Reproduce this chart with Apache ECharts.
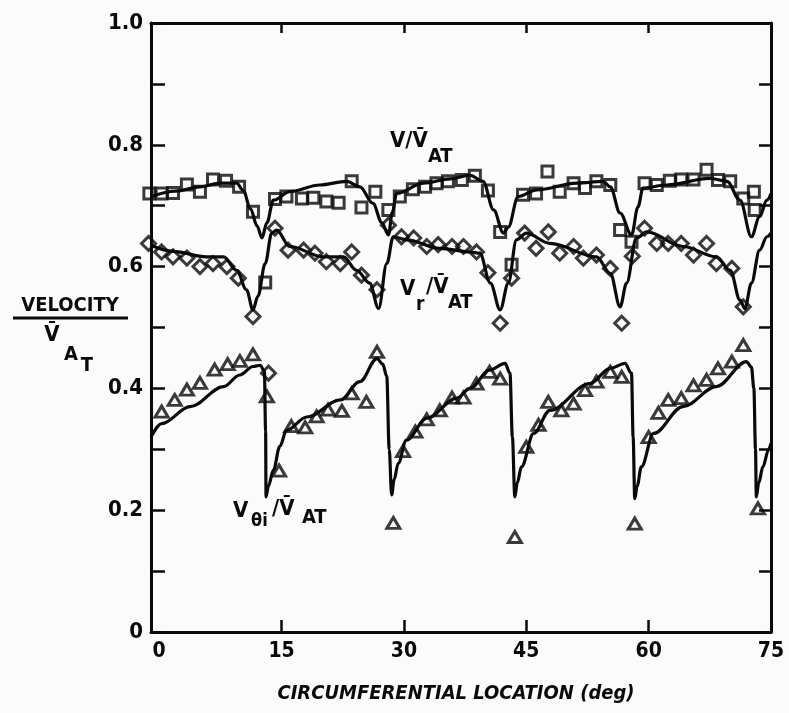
<!DOCTYPE html>
<html>
<head>
<meta charset="utf-8">
<script src="https://cdn.jsdelivr.net/npm/echarts@6.0.0/dist/echarts.min.js"></script>
<style>
  html, body { margin: 0; padding: 0; background: #fbfbfb; }
  #chart { width: 789px; height: 713px; }
</style>
</head>
<body>
<div id="chart"></div>
<script>
// ---- data ----
const xTickLabels = [0, 15, 30, 45, 60, 75];
const xTicks = [15, 30, 45, 60];

// V / V_AT (squares)
const sqX = [-1.2,0.3,1.7,3.4,5.0,6.6,8.2,9.8,11.5,13.0,14.2,15.6,17.5,18.9,20.5,22.0,23.6,24.8,26.5,28.1,29.5,31.1,32.6,34.0,35.4,37.1,38.7,40.3,41.8,43.2,44.6,46.2,47.6,49.1,50.8,52.2,53.6,55.3,56.5,57.9,59.5,61.0,62.6,64.0,65.5,67.1,68.5,70.0,71.6,72.9,73.0];
const sqY = [0.720,0.720,0.721,0.735,0.723,0.743,0.741,0.731,0.690,0.574,0.711,0.715,0.712,0.713,0.707,0.705,0.740,0.697,0.723,0.693,0.715,0.727,0.731,0.737,0.740,0.742,0.749,0.725,0.657,0.603,0.718,0.720,0.756,0.723,0.737,0.729,0.740,0.734,0.660,0.641,0.737,0.734,0.741,0.743,0.743,0.759,0.742,0.740,0.712,0.723,0.693];

// Vr / V_AT (diamonds)
const dmX = [-1.3,0.3,1.7,3.4,5.0,6.6,8.3,9.7,11.5,13.4,14.2,15.8,17.7,19.1,20.5,22.2,23.6,24.8,26.7,28.1,29.7,31.2,32.8,34.2,35.9,37.3,38.9,40.3,41.8,43.2,44.8,46.2,47.7,49.1,50.8,52.0,53.6,55.3,56.7,58.0,59.5,61.0,62.4,64.0,65.5,67.1,68.3,70.2,71.6];
const dmY = [0.638,0.624,0.616,0.614,0.600,0.605,0.600,0.581,0.518,0.425,0.663,0.627,0.627,0.622,0.608,0.605,0.624,0.586,0.562,0.668,0.649,0.647,0.633,0.636,0.633,0.633,0.624,0.590,0.507,0.581,0.655,0.630,0.657,0.622,0.633,0.614,0.619,0.597,0.507,0.617,0.663,0.638,0.638,0.638,0.619,0.638,0.605,0.597,0.534];

// Vθi / V_AT (triangles)
const trX = [0.3,1.9,3.4,5.0,6.8,8.4,9.9,11.5,13.2,14.7,16.2,17.9,19.3,20.7,22.4,23.6,25.4,26.7,28.7,29.9,31.4,32.8,34.4,35.9,37.3,38.9,40.5,41.8,43.6,45.0,46.5,47.7,49.3,50.8,52.2,53.6,55.3,56.7,58.3,60.0,61.2,62.4,64.0,65.5,67.1,68.5,70.2,71.6,73.4];
const trY = [0.362,0.381,0.398,0.409,0.431,0.440,0.445,0.456,0.387,0.265,0.338,0.336,0.354,0.365,0.363,0.392,0.378,0.460,0.179,0.297,0.329,0.349,0.364,0.385,0.385,0.408,0.427,0.416,0.156,0.304,0.340,0.378,0.364,0.375,0.397,0.411,0.427,0.419,0.178,0.320,0.360,0.381,0.384,0.405,0.414,0.433,0.444,0.471,0.203];

// solid curves
const vLineX = [-1.0,2,5,7.5,9.5,10.3,11.2,12.0,12.6,13.2,14.0,16.0,19.7,23.0,24.6,26.2,27.3,28.1,28.6,29.1,32.4,35.7,38.1,39.7,41.0,42.2,42.8,44.0,46.3,51.2,54.4,55.3,56.5,57.9,58.7,59.3,62.2,67.5,69.6,71.2,72.6,73.6,74.5,75];
const vLineY = [0.715,0.724,0.731,0.737,0.737,0.725,0.695,0.667,0.647,0.672,0.709,0.723,0.734,0.740,0.731,0.704,0.672,0.652,0.690,0.720,0.737,0.744,0.750,0.740,0.693,0.655,0.665,0.715,0.726,0.737,0.740,0.731,0.688,0.652,0.698,0.729,0.734,0.745,0.740,0.709,0.649,0.682,0.709,0.720];

const vrLineX = [-1.0,1.7,5.8,7.9,9.5,10.7,11.5,12.1,13.0,13.8,14.4,16.0,20.1,22.6,24.2,25.8,26.9,27.9,28.7,30.3,34.4,38.1,39.3,40.6,41.8,42.8,43.8,45.0,47.9,53.6,55.3,56.5,57.3,58.5,59.8,64.2,68.3,70.0,71.2,71.8,72.6,73.6,74.5,75];
const vrLineY = [0.635,0.625,0.616,0.616,0.594,0.562,0.529,0.551,0.605,0.655,0.660,0.633,0.616,0.616,0.594,0.573,0.531,0.605,0.649,0.644,0.630,0.624,0.622,0.573,0.529,0.573,0.644,0.655,0.638,0.616,0.589,0.534,0.573,0.647,0.657,0.633,0.616,0.594,0.545,0.531,0.573,0.627,0.649,0.655];

const vtLineX = [-1.0,0.3,3.8,7.9,9.9,11.5,12.4,12.9,13.05,13.1,13.4,14.0,14.8,15.6,18.1,22.2,24.6,26.7,27.4,27.9,28.2,28.5,28.8,29.3,30.3,32.8,36.5,38.1,40.5,42.4,43.0,43.3,43.6,43.9,44.4,45.9,47.9,52.8,55.3,57.1,57.9,58.1,58.3,58.6,59.1,60.6,64.2,68.3,72.0,72.6,72.9,73.1,73.2,73.5,74.0,74.7,75];
const vtLineY = [0.320,0.342,0.370,0.403,0.422,0.436,0.438,0.428,0.330,0.222,0.240,0.266,0.305,0.331,0.353,0.381,0.411,0.449,0.440,0.420,0.300,0.225,0.250,0.277,0.315,0.351,0.384,0.400,0.430,0.441,0.425,0.320,0.222,0.245,0.271,0.326,0.364,0.408,0.433,0.441,0.425,0.320,0.219,0.240,0.271,0.326,0.370,0.403,0.444,0.435,0.400,0.300,0.222,0.245,0.271,0.299,0.310];

// ---- chart ----
const zip = (xs, ys) => xs.map((x, i) => [x, ys[i]]);
const INK = '#0a0a0a';
const FONT = '"DejaVu Sans Condensed", "DejaVu Sans", sans-serif';

const chart = echarts.init(document.getElementById('chart'), null, { renderer: 'canvas' });

const markerStyle = { color: 'rgba(255,255,255,0)', borderColor: INK, borderWidth: 3 };
const lineBase = {
  type: 'line', showSymbol: false, symbol: 'none', smooth: 0.35, smoothMonotone: 'x',
  lineStyle: { color: INK, width: 3.2 }, silent: true, z: 2
};
const axisLineStyle = { show: true, onZero: false, lineStyle: { color: INK, width: 3 } };

chart.setOption({
  backgroundColor: '#fbfbfb',
  animation: false,
  grid: { left: 151, right: 18, top: 23, bottom: 81 },
  xAxis: [
    {
      type: 'value', min: -1, max: 75, position: 'bottom',
      axisLine: axisLineStyle,
      axisTick: { show: true, inside: true, length: 12, customValues: xTicks, lineStyle: { color: INK, width: 2.5 } },
      axisLabel: { customValues: xTickLabels, color: INK, fontFamily: FONT, fontWeight: 'bold', fontSize: 21, margin: 9 },
      splitLine: { show: false }
    },
    {
      type: 'value', min: -1, max: 75, position: 'top',
      axisLine: axisLineStyle,
      axisTick: { show: true, inside: true, length: 10, customValues: xTicks, lineStyle: { color: INK, width: 2.5 } },
      axisLabel: { show: false },
      splitLine: { show: false }
    }
  ],
  yAxis: [
    {
      type: 'value', min: 0, max: 1, interval: 0.1, position: 'left',
      axisLine: axisLineStyle,
      axisTick: { show: true, inside: true, length: 14, lineStyle: { color: INK, width: 2.5 } },
      axisLabel: {
        color: INK, fontFamily: FONT, fontWeight: 'bold', fontSize: 22, margin: 8,
        formatter: v => { const k = Math.round(v * 10); if (k % 2) return ''; return k === 0 ? '0' : (k / 10).toFixed(1); }
      },
      splitLine: { show: false }
    },
    {
      type: 'value', min: 0, max: 1, interval: 0.1, position: 'right',
      axisLine: axisLineStyle,
      axisTick: { show: true, inside: true, length: 12, lineStyle: { color: INK, width: 2.5 } },
      axisLabel: { show: false },
      splitLine: { show: false }
    }
  ],
  series: [
    Object.assign({}, lineBase, { name: 'V/VAT curve', data: zip(vLineX, vLineY) }),
    Object.assign({}, lineBase, { name: 'Vr/VAT curve', data: zip(vrLineX, vrLineY) }),
    Object.assign({}, lineBase, { name: 'Vθi/VAT curve', data: zip(vtLineX, vtLineY) }),
    { type: 'scatter', name: 'V/VAT', symbol: 'rect', symbolSize: 11, clip: false, itemStyle: markerStyle, data: zip(sqX, sqY), z: 3 },
    { type: 'scatter', name: 'Vr/VAT', symbol: 'diamond', symbolSize: 14, clip: false, itemStyle: markerStyle, data: zip(dmX, dmY), z: 3 },
    { type: 'scatter', name: 'Vθi/VAT', symbol: 'triangle', symbolSize: [13, 11], clip: false, itemStyle: markerStyle, data: zip(trX, trY), z: 3 }
  ],
  graphic: [
    // y-axis title: VELOCITY / V̄A_T
    { type: 'text', x: 70, y: 306, style: { text: 'VELOCITY', font: 'bold 20px ' + FONT, fill: INK, textAlign: 'center', textVerticalAlign: 'middle' } },
    { type: 'line', shape: { x1: 13, y1: 318, x2: 128, y2: 318 }, style: { stroke: INK, lineWidth: 3 } },
    { type: 'text', x: 52, y: 335, style: { text: 'V\u0304', font: 'bold 22px ' + FONT, fill: INK, textAlign: 'center', textVerticalAlign: 'middle' } },
    { type: 'text', x: 71, y: 355, style: { text: 'A', font: 'bold 20px ' + FONT, fill: INK, textAlign: 'center', textVerticalAlign: 'middle' } },
    { type: 'text', x: 87, y: 366, style: { text: 'T', font: 'bold 20px ' + FONT, fill: INK, textAlign: 'center', textVerticalAlign: 'middle' } },
    // x-axis title
    { type: 'text', x: 456, y: 694, style: { text: 'CIRCUMFERENTIAL LOCATION (deg)', font: 'italic bold 20px ' + FONT, fill: INK, textAlign: 'center', textVerticalAlign: 'middle' } },
    // label: V/V̄AT
    { type: 'text', x: 390, y: 141, style: { text: 'V/V\u0304', font: 'bold 22px ' + FONT, fill: INK, textAlign: 'left', textVerticalAlign: 'middle' } },
    { type: 'text', x: 428, y: 157, style: { text: 'AT', font: 'bold 20px ' + FONT, fill: INK, textAlign: 'left', textVerticalAlign: 'middle' } },
    // label: Vr/V̄AT
    { type: 'text', x: 400, y: 289, style: { text: 'V', font: 'bold 22px ' + FONT, fill: INK, textAlign: 'left', textVerticalAlign: 'middle' } },
    { type: 'text', x: 416, y: 305, style: { text: 'r', font: 'bold 19px ' + FONT, fill: INK, textAlign: 'left', textVerticalAlign: 'middle' } },
    { type: 'text', x: 426, y: 287, style: { text: '/V\u0304', font: 'bold 22px ' + FONT, fill: INK, textAlign: 'left', textVerticalAlign: 'middle' } },
    { type: 'text', x: 448, y: 303, style: { text: 'AT', font: 'bold 20px ' + FONT, fill: INK, textAlign: 'left', textVerticalAlign: 'middle' } },
    // label: Vθi/V̄AT
    { type: 'text', x: 233, y: 511, style: { text: 'V', font: 'bold 22px ' + FONT, fill: INK, textAlign: 'left', textVerticalAlign: 'middle' } },
    { type: 'text', x: 251, y: 521, style: { text: 'θi', font: 'bold 18px ' + FONT, fill: INK, textAlign: 'left', textVerticalAlign: 'middle' } },
    { type: 'text', x: 272, y: 509, style: { text: '/V\u0304', font: 'bold 22px ' + FONT, fill: INK, textAlign: 'left', textVerticalAlign: 'middle' } },
    { type: 'text', x: 302, y: 518, style: { text: 'AT', font: 'bold 20px ' + FONT, fill: INK, textAlign: 'left', textVerticalAlign: 'middle' } }
  ]
});
</script>
</body>
</html>
